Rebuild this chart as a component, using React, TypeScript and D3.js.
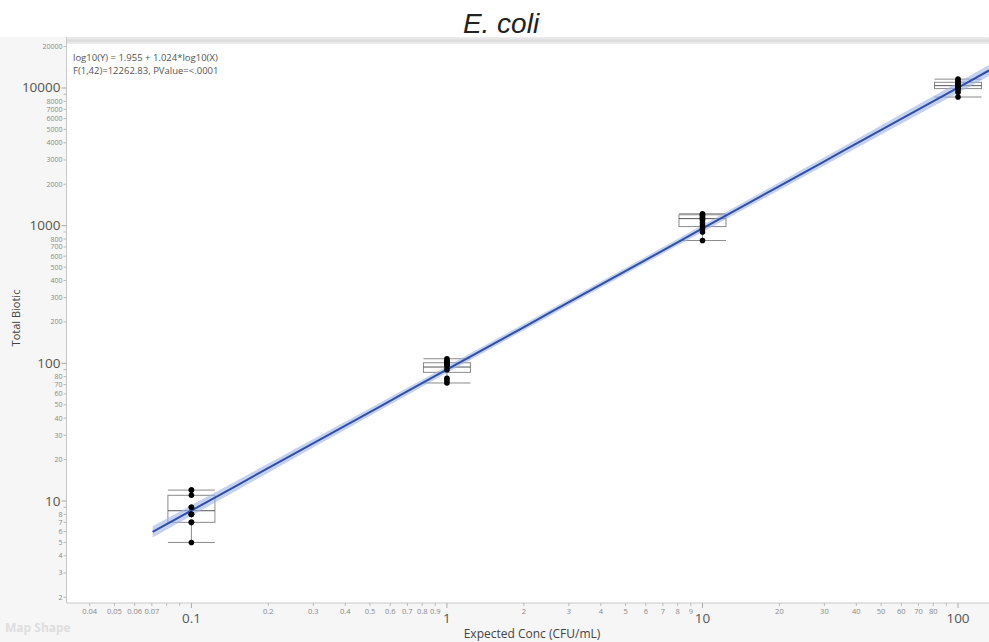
import React from 'react';
import * as d3 from 'd3';

const W = 989;
const H = 642;

// Data
const groups = [0.1, 1, 10, 100];
const points0 = [12, 12, 11, 9, 9, 8, 8, 8, 7, 7, 5];
const points1 = [108, 104, 104, 100, 100, 96, 96, 90, 78, 75, 72];
const points2 = [1220, 1200, 1180, 1150, 1120, 1100, 1050, 1000, 950, 900, 780];
const points3 = [11600, 11300, 11000, 10800, 10500, 10300, 10100, 10000, 9700, 9300, 8600];
const groupPoints = [points0, points1, points2, points3];
const boxQ1 = [7, 86, 985, 9900];
const boxMedian = [8.5, 94, 1125, 10400];
const boxQ3 = [11, 101, 1200, 11000];
const whiskerLo = [5, 72, 780, 8600];
const whiskerHi = [12, 108, 1220, 11600];

// Fit: log10(Y) = 1.955 + 1.024*log10(X)
const intercept = 1.955;
const slope = 1.024;
const fitStartX = 0.0705;
const residSD = 0.075;
const nObs = 44;

// Ticks
const xMajor = [0.1, 1, 10, 100];
const xMinorLabeled = [0.04, 0.05, 0.06, 0.07, 0.2, 0.3, 0.4, 0.5, 0.6, 0.7, 0.8, 0.9, 2, 3, 4, 5, 6, 7, 8, 9, 20, 30, 40, 50, 60, 70, 80];
const xMinorUnlabeled = [0.08, 0.09, 90];
const yMajor = [10, 100, 1000, 10000];
const yMinorLabeled = [2, 3, 4, 5, 6, 7, 8, 20, 30, 40, 50, 60, 70, 80, 200, 300, 400, 500, 600, 700, 800, 2000, 3000, 4000, 5000, 6000, 7000, 8000, 20000];
const yMinorUnlabeled = [9, 90, 900, 9000];

const PL = 66.5;
const PR = 989;
const PT = 44;
const PB = 603;

export default function App() {
  const x = d3.scaleLog().domain([0.03245, 132.2]).range([PL, PR]);
  const y = d3.scaleLog().domain([1.816, 20874]).range([PB, PT]);

  const logs = groups.map(Math.log10);
  const xbar = d3.mean(logs) as number;
  const sxx = logs.reduce((s, v) => s + (v - xbar) ** 2, 0) * (nObs / groups.length);
  const tval = 2.018;

  const lx0 = Math.log10(fitStartX);
  const lx1 = Math.log10(x.domain()[1]);
  const steps = d3.range(0, 41).map((i) => lx0 + ((lx1 - lx0) * i) / 40);
  const bandData = steps.map((lx) => {
    const ly = intercept + slope * lx;
    const hw = tval * residSD * Math.sqrt(1 / nObs + (lx - xbar) ** 2 / sxx);
    return { X: 10 ** lx, lo: 10 ** (ly - hw), hi: 10 ** (ly + hw), mid: 10 ** ly };
  });
  const area = d3
    .area<any>()
    .x((d) => x(d.X))
    .y0((d) => y(d.lo))
    .y1((d) => y(d.hi));
  const line = d3
    .line<any>()
    .x((d) => x(d.X))
    .y((d) => y(d.mid));

  const boxHalf = 23.5;
  const font = "'Open Sans', 'Noto Sans', sans-serif";

  return (
    <svg width={W} height={H} style={{ position: 'absolute', left: 0, top: 0 }} fontFamily={font}>
      <defs>
        <linearGradient id="band" x1="0" y1="0" x2="0" y2="1">
          <stop offset="0" stopColor="#efefef" />
          <stop offset="0.5" stopColor="#dcdcdc" />
          <stop offset="1" stopColor="#eeeeee" />
        </linearGradient>
        <clipPath id="plotclip">
          <rect x={PL} y={PT} width={PR - PL} height={PB - PT} />
        </clipPath>
      </defs>
      <rect x={0} y={0} width={W} height={H} fill="#f6f6f6" />
      <rect x={0} y={0} width={W} height={37} fill="#ffffff" />
      <rect x={PL} y={37} width={PR - PL} height={PT - 37} fill="url(#band)" />
      <rect x={PL} y={PT} width={PR - PL} height={PB - PT} fill="#ffffff" />

      {/* Title */}
      <text x={501} y={33} textAnchor="middle" fontFamily="'Liberation Sans', Arial, sans-serif" fontStyle="italic" fontSize={28} fill="#222">
        E. coli
      </text>

      {/* Axes lines */}
      <line x1={PL} x2={PL} y1={37} y2={PB} stroke="#c8c8c8" />
      <line x1={PL} x2={PR} y1={PB} y2={PB} stroke="#c8c8c8" />

      {/* Y ticks */}
      {yMajor.map((v) => (
        <g key={'ym' + v}>
          <line x1={PL - 5} x2={PL} y1={y(v)} y2={y(v)} stroke="#aaa" />
          <text x={PL - 6} y={y(v) + 4.5} textAnchor="end" fontSize={13.5} fill="#555">
            {v}
          </text>
        </g>
      ))}
      {yMinorLabeled.map((v) => (
        <g key={'yl' + v}>
          <line x1={PL - 3} x2={PL} y1={y(v)} y2={y(v)} stroke="#bbb" />
          <text x={PL - 4} y={y(v) + 2.5} textAnchor="end" fontSize={7} fill="#888">
            {v}
          </text>
        </g>
      ))}
      {yMinorUnlabeled.map((v) => (
        <line key={'yu' + v} x1={PL - 3} x2={PL} y1={y(v)} y2={y(v)} stroke="#bbb" />
      ))}

      {/* X ticks */}
      {xMajor.map((v) => (
        <g key={'xm' + v}>
          <line x1={x(v)} x2={x(v)} y1={PB} y2={PB + 5} stroke="#aaa" />
          <text x={x(v)} y={623} textAnchor="middle" fontSize={13.5} fill="#555">
            {v}
          </text>
        </g>
      ))}
      {xMinorLabeled.map((v) => (
        <g key={'xl' + v}>
          <line x1={x(v)} x2={x(v)} y1={PB} y2={PB + 3} stroke="#bbb" />
          <text x={x(v)} y={614} textAnchor="middle" fontSize={7.5} fill="#888">
            {v}
          </text>
        </g>
      ))}
      {xMinorUnlabeled.map((v) => (
        <line key={'xu' + v} x1={x(v)} x2={x(v)} y1={PB} y2={PB + 3} stroke="#bbb" />
      ))}

      {/* Axis titles */}
      <text x={532} y={638} textAnchor="middle" fontSize={12} fill="#444">
        Expected Conc (CFU/mL)
      </text>
      <text transform={`translate(20,${318}) rotate(-90)`} textAnchor="middle" fontSize={11} fill="#444">
        Total Biotic
      </text>
      <text x={5} y={632} fontSize={12} fontWeight="bold" fill="#dedede">
        Map Shape
      </text>

      {/* Equation */}
      <text x={73} y={61} fontSize={9.5} fill="#555">
        log10(Y) = 1.955 + 1.024*log10(X)
      </text>
      <text x={73} y={74} fontSize={9.5} fill="#555">
        F(1,42)=12262.83, PValue=&lt;.0001
      </text>

      <g clipPath="url(#plotclip)">
        {/* Box plots */}
        {groups.map((g, i) => {
          const cx = x(g);
          return (
            <g key={'box' + g} stroke="#8a8a8a" strokeWidth={1} fill="none">
              <line x1={cx} x2={cx} y1={y(whiskerHi[i])} y2={y(boxQ3[i])} />
              <line x1={cx} x2={cx} y1={y(boxQ1[i])} y2={y(whiskerLo[i])} />
              <line x1={cx - boxHalf} x2={cx + boxHalf} y1={y(whiskerHi[i])} y2={y(whiskerHi[i])} />
              <line x1={cx - boxHalf} x2={cx + boxHalf} y1={y(whiskerLo[i])} y2={y(whiskerLo[i])} />
              <rect x={cx - boxHalf} y={y(boxQ3[i])} width={boxHalf * 2} height={y(boxQ1[i]) - y(boxQ3[i])} />
              <line x1={cx - boxHalf} x2={cx + boxHalf} y1={y(boxMedian[i])} y2={y(boxMedian[i])} stroke="#555" />
            </g>
          );
        })}

        {/* Confidence band & fit line */}
        <path d={area(bandData) || ''} fill="#9db3e6" fillOpacity={0.6} />
        <path d={line(bandData) || ''} fill="none" stroke="#2f4fa8" strokeWidth={2} />

        {/* Points */}
        {groups.map((g, i) =>
          groupPoints[i].map((v, j) => (
            <circle key={'p' + i + '-' + j} cx={x(g)} cy={y(v)} r={2.8} fill="#000" />
          ))
        )}
      </g>
    </svg>
  );
}
